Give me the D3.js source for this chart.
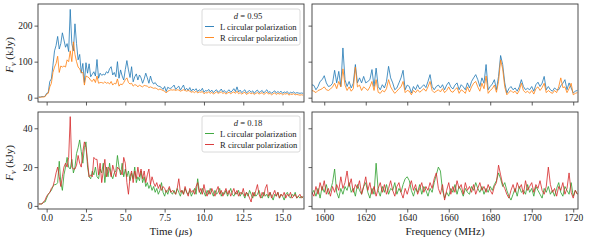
<!DOCTYPE html>
<html>
<head>
<meta charset="utf-8">
<script src="https://cdn.jsdelivr.net/npm/d3@7/dist/d3.min.js"></script>
<style>
	body { margin: 0; background: #fff; }
	text { font-family: "Liberation Serif", "DejaVu Serif", serif; fill: #222; }
</style>
</head>
<body>
<div id="chart"></div>
<script>

// sample grids
var tStart = -0.5, tStep = 0.1;
var fStart = 1594, fStep = 1;

var timeTicks = [0, 2.5, 5, 7.5, 10, 12.5, 15];
var freqTicks = [1600, 1620, 1640, 1660, 1680, 1700, 1720];
var topYTicks = [0, 100, 200];
var botYTicks = [0, 20, 40];

var seriesNames = ["L circular polarization", "R circular polarization"];
var legendTitles = ["0.95", "0.18"];

// d = 0.95, time profile (kJy)
var timeL95 = [2,2,3,3,4,
	12,14,45,52,90,130,145,170,135,150,
	180,160,140,150,128,245,150,130,205,150,
	105,120,68,95,42,97,68,94,58,65,
	72,60,106,54,68,62,65,63,72,68,
	80,86,63,70,58,100,54,77,60,49,
	78,103,77,56,86,44,58,66,49,63,
	55,40,52,68,55,40,60,45,38,42,
	35,32,31,28,23,31,17,29,26,26,
	30,35,23,28,32,21,28,35,21,26,
	20,28,18,24,20,25,17,22,19,26,
	15,20,18,23,16,21,14,19,22,15,
	18,24,16,20,14,18,22,15,19,25,
	17,30,16,21,14,18,22,13,17,20,
	15,19,12,18,21,14,17,20,13,18,
	22,14,17,12,16,19,13,17,14,18,
	12,16,14,17,11,15,13,16,12,14,
	13,12,13,12];

var timeR95 = [1,1,2,2,3,
	10,12,30,40,70,85,95,115,70,88,
	85,88,85,105,100,130,100,155,120,100,
	85,80,70,70,35,60,58,55,48,45,
	52,42,60,40,42,42,40,44,40,42,
	38,45,35,40,38,52,32,38,36,42,
	50,55,42,38,40,32,36,35,30,35,
	32,30,34,33,32,28,30,28,26,27,
	25,22,24,22,20,18,13,18,20,22,
	21,22,20,22,21,18,20,22,20,18,
	20,18,15,17,14,18,13,16,15,17,
	11,14,13,16,12,15,10,13,16,12,
	14,16,12,14,10,13,15,11,14,16,
	12,18,11,14,10,13,15,9,12,14,
	11,13,9,12,14,10,12,14,9,12,
	15,10,12,8,11,13,9,12,10,12,
	8,11,10,12,7,10,9,11,8,9,
	8,7,8,7];

// d = 0.18, time profile (kJy)
var timeL18 = [1,1,1,2,2,
	4,6,7,8,10,11,11,12,23,12,
	8,16,20,25,20,19,24,17,20,27,
	30,34,28,22,30,33,20,15,14,18,
	16,20,15,14,19,17,22,12,20,15,
	22,16,14,17,18,26,20,16,22,15,
	19,15,18,13,17,14,20,12,15,13,
	18,12,15,10,12,9,11,8,10,7,
	9,6,8,12,7,5,8,6,9,7,
	6,8,6,9,7,5,8,6,9,7,
	6,8,5,7,9,6,14,8,6,9,
	7,5,8,6,9,7,5,8,6,7,
	9,5,7,6,8,5,7,9,6,5,
	7,6,8,5,7,6,4,7,5,8,
	6,4,7,5,6,8,5,4,7,5,
	6,4,7,5,3,6,5,7,4,6,
	5,3,6,7,5,4,6,5,7,4,
	5,4,5,4];

var timeR18 = [1,1,1,2,3,
	5,6,7,9,10,13,17,20,15,10,
	15,20,22,20,25,46,20,19,19,21,
	26,22,20,28,33,30,23,15,16,15,
	25,24,24,16,22,12,18,24,15,20,
	19,15,21,18,15,20,19,18,16,25,
	22,12,6,15,18,12,18,14,20,15,
	19,14,18,12,16,19,11,15,12,10,
	12,9,11,8,10,9,7,8,10,7,
	8,7,6,9,14,7,8,6,10,7,
	5,9,7,8,6,10,12,7,9,6,
	11,7,5,8,6,9,7,5,8,10,
	6,8,5,7,9,6,8,5,7,9,
	6,8,5,7,6,9,5,7,6,4,
	2,7,5,8,11,6,4,7,5,9,
	11,5,7,4,6,8,5,7,4,6,
	5,7,4,6,5,7,4,5,6,4,
	5,6,4,5];

// d = 0.95, spectrum (kJy)
var freqL95 = [36,34,22,31,45,50,61,41,31,33,
	40,76,41,73,31,138,50,31,45,27,
	40,92,41,55,41,59,41,45,50,78,
	31,82,31,22,36,27,45,87,55,41,
	22,27,41,55,76,22,35,31,13,31,
	22,36,24,30,36,28,45,64,31,22,
	31,35,27,36,22,35,43,30,24,35,
	41,22,36,30,22,41,27,45,55,64,
	50,31,55,40,92,22,31,38,50,22,
	59,117,92,41,13,25,31,22,27,18,
	30,50,31,22,26,22,31,18,36,43,
	31,40,59,22,31,22,18,27,22,22,
	33,40,50,22,41,27,13,18,20];

var freqR95 = [20,18,14,20,22,25,30,22,20,24,
	30,40,25,45,30,80,35,20,30,18,
	25,85,30,35,20,30,25,20,30,45,
	20,50,15,12,20,16,25,50,30,20,
	12,18,25,30,45,14,20,18,8,20,
	14,22,15,20,25,18,30,45,20,14,
	18,22,16,25,14,20,30,18,15,22,
	28,12,22,18,12,30,16,30,40,45,
	30,18,40,25,60,12,20,25,35,15,
	45,105,80,30,8,15,20,14,18,10,
	20,40,20,14,18,12,20,10,25,30,
	20,28,40,14,20,15,12,20,14,30,
	55,28,30,14,25,40,8,12,14];

// d = 0.18, spectrum (kJy)
var freqL18 = [6,8,5,9,4,10,7,11,6,8,
	12,19,7,4,9,6,10,8,12,7,
	9,5,11,8,6,10,12,7,4,9,
	6,22,8,5,10,7,11,6,9,8,
	12,6,9,7,11,14,15,13,8,5,
	9,7,11,6,10,8,5,9,7,12,
	16,20,18,8,4,7,5,9,7,11,
	6,10,8,5,9,7,6,10,8,12,
	9,7,10,6,9,7,10,8,11,13,
	17,14,10,12,8,5,3,6,9,5,
	10,7,8,6,11,7,9,5,10,8,
	6,4,9,7,10,6,8,5,9,12,
	7,5,10,8,6,12,5,8,6];

var freqR18 = [7,5,10,6,12,8,13,6,9,5,
	10,7,11,8,15,9,12,18,10,14,
	7,11,9,13,6,10,15,8,12,6,
	10,5,9,12,7,11,6,9,13,8,
	5,10,12,7,4,9,6,10,13,8,
	11,6,9,12,7,10,8,12,9,14,
	17,9,6,11,3,8,12,6,10,7,
	13,9,11,6,12,8,10,7,11,6,
	9,12,8,10,7,11,8,6,10,12,
	21,16,11,9,6,4,8,11,7,12,
	9,11,6,13,8,10,12,7,11,9,
	13,8,6,10,20,11,7,9,5,10,
	8,12,6,9,17,7,4,8,6];

var W = 589, H = 243;
var serif = '"Liberation Serif", "DejaVu Serif", serif';

var svg = d3.select("#chart")
	.append("svg")
	.attr("width", W)
	.attr("height", H)
	.attr("font-family", serif)
	.style("display", "block");

var xTime = d3.scaleLinear().domain([-0.55, 16.36]).range([38, 304]);
var xFreq = d3.scaleLinear().domain([1594.1, 1722.3]).range([312, 578]);
var yTop  = d3.scaleLinear().domain([-12, 260]).range([102, 4]);
var yBot  = d3.scaleLinear().domain([-1.6, 48.4]).range([209, 112]);

function drawPanel( x, y, series, colors, opts ) {

	var x0 = x.range()[0], x1 = x.range()[1];
	var y0 = y.range()[1], y1 = y.range()[0];
	var id = "clip" + opts.key;

	svg.append("clipPath")
		.attr("id", id)
		.append("rect")
		.attr("x", x0)
		.attr("y", y0)
		.attr("width", x1 - x0)
		.attr("height", y1 - y0);

	var g = svg.append("g").attr("clip-path", "url(#" + id + ")");

	series.forEach(function( s, i ) {
		var line = d3.line()
			.x(function(d, j) { return x(opts.start + j * opts.step); })
			.y(function(d) { return y(d); });
		g.append("path")
			.datum(s)
			.attr("d", line)
			.attr("fill", "none")
			.attr("stroke", colors[i])
			.attr("stroke-width", 0.8)
			.attr("stroke-linejoin", "round");
	});

	var xAxis = d3.axisBottom(x)
		.tickValues(opts.xTicks)
		.tickSize(3.5)
		.tickPadding(2)
		.tickFormat(opts.xLabels ? opts.xFormat : "");

	var yAxis = d3.axisLeft(y)
		.tickValues(opts.yTicks)
		.tickSize(3.5)
		.tickPadding(2)
		.tickFormat(opts.yLabels ? d3.format("d") : "");

	var ax = svg.append("g")
		.attr("transform", "translate(0," + y1 + ")")
		.call(xAxis);
	var ay = svg.append("g")
		.attr("transform", "translate(" + x0 + ",0)")
		.call(yAxis);

	[ax, ay].forEach(function(a) {
		a.attr("font-family", serif).attr("font-size", 9.5);
		a.select(".domain").remove();
		a.selectAll(".tick line").attr("stroke", "#333").attr("stroke-width", 0.8);
		a.selectAll(".tick text").attr("fill", "#222");
	});

	svg.append("rect")
		.attr("x", x0)
		.attr("y", y0)
		.attr("width", x1 - x0)
		.attr("height", y1 - y0)
		.attr("fill", "none")
		.attr("stroke", "#3a3a3a")
		.attr("stroke-width", 0.9);
}

function drawLegend( x, y, title, colors ) {
	var g = svg.append("g").attr("transform", "translate(" + x + "," + y + ")");

	g.append("rect")
		.attr("width", 98)
		.attr("height", 36)
		.attr("rx", 2)
		.attr("fill", "#fff")
		.attr("fill-opacity", 0.85)
		.attr("stroke", "#d0d0d0")
		.attr("stroke-width", 0.8);

	var t = g.append("text")
		.attr("x", 46)
		.attr("y", 9.5)
		.attr("text-anchor", "middle")
		.style("font-size", "8.6px");
	t.append("tspan").style("font-style", "italic").text("d");
	t.append("tspan").text(" = " + title);

	seriesNames.forEach(function( name, i ) {
		var cy = 17.5 + i * 11;
		g.append("line")
			.attr("x1", 3)
			.attr("x2", 12)
			.attr("y1", cy)
			.attr("y2", cy)
			.attr("stroke", colors[i])
			.attr("stroke-width", 0.9);
		g.append("text")
			.attr("x", 18)
			.attr("y", cy + 3)
			.style("font-size", "8.6px")
			.text(name);
	});
}

function yLabel( cy ) {
	var t = svg.append("text")
		.attr("transform", "translate(13," + cy + ") rotate(-90)")
		.attr("text-anchor", "middle")
		.style("font-size", "11px");
	t.append("tspan").style("font-style", "italic").text("F");
	t.append("tspan").attr("dy", 2.5).style("font-size", "8px").style("font-style", "italic").text("ν");
	t.append("tspan").attr("dy", -2.5).text(" (kJy)");
}

var blueOrange = ["#1f77b4", "#ff7f0e"];
var greenRed   = ["#2ca02c", "#d62728"];
var fmt1 = d3.format(".1f");
var fmt0 = d3.format("d");

drawPanel(xTime, yTop, [timeL95, timeR95], blueOrange,
	{ key: "tl", start: tStart, step: tStep, xTicks: timeTicks, yTicks: topYTicks, xLabels: false, yLabels: true, xFormat: fmt1 });
drawPanel(xFreq, yTop, [freqL95, freqR95], blueOrange,
	{ key: "tr", start: fStart, step: fStep, xTicks: freqTicks, yTicks: topYTicks, xLabels: false, yLabels: false, xFormat: fmt0 });
drawPanel(xTime, yBot, [timeL18, timeR18], greenRed,
	{ key: "bl", start: tStart, step: tStep, xTicks: timeTicks, yTicks: botYTicks, xLabels: true, yLabels: true, xFormat: fmt1 });
drawPanel(xFreq, yBot, [freqL18, freqR18], greenRed,
	{ key: "br", start: fStart, step: fStep, xTicks: freqTicks, yTicks: botYTicks, xLabels: true, yLabels: false, xFormat: fmt0 });

drawLegend(202, 9, legendTitles[0], blueOrange);
drawLegend(202, 116, legendTitles[1], greenRed);

yLabel(55);
yLabel(163);

var tl = svg.append("text")
	.attr("x", xTime(7.9))
	.attr("y", 235)
	.attr("text-anchor", "middle")
	.style("font-size", "11px");
tl.append("tspan").text("Time (");
tl.append("tspan").style("font-style", "italic").text("μ");
tl.append("tspan").text("s)");

svg.append("text")
	.attr("x", (312 + 578) / 2)
	.attr("y", 235)
	.attr("text-anchor", "middle")
	.style("font-size", "11px")
	.text("Frequency (MHz)");

</script>
</body>
</html>
